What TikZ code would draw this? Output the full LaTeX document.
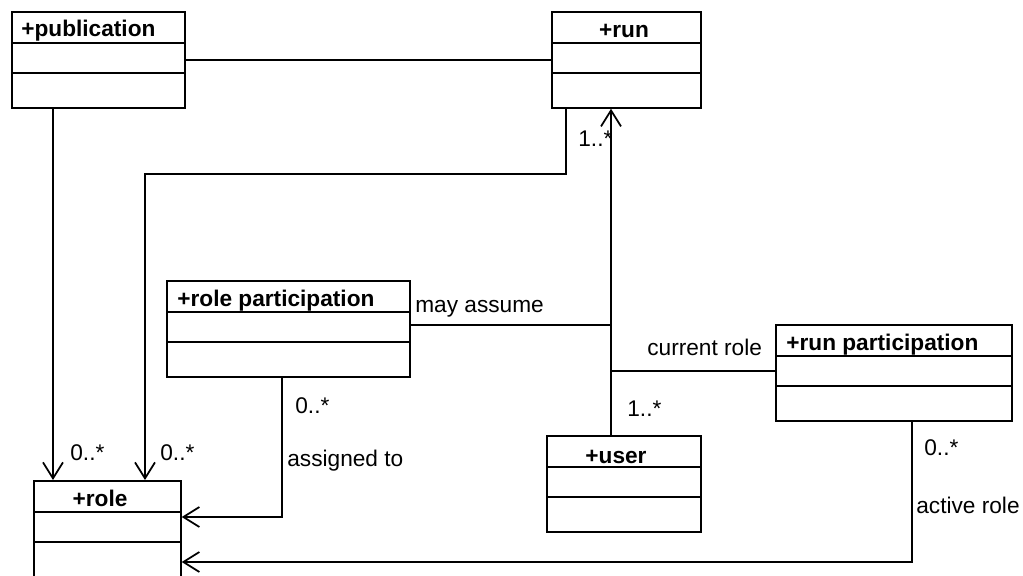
\documentclass[tikz,border=0pt]{standalone}
\usepackage{fontspec}
\setmainfont{Liberation Sans}
\usetikzlibrary{arrows.meta}
\tikzset{
  classbox/.style={draw, line width=1pt, anchor=north west, inner sep=0pt, minimum height=1.92cm},
  classname/.style={font=\bfseries\fontsize{12.9}{15}\selectfont, inner sep=0pt},
  assoclabel/.style={font=\fontsize{12.9}{15}\selectfont, inner sep=0pt, anchor=base west},
  assoc/.style={line width=1pt},
  navig/.style={line width=1pt, -{Straight Barb[length=0.32cm,width=0.4cm]}}
}

\begin{document}
\begin{tikzpicture}[x=0.02cm, y=-0.02cm]
				\clip (0,0) rectangle (1023,575);
				% classes
				\node[classbox, minimum width=3.46cm] (publication) at (11,11) {};
				\node[classbox, minimum width=2.98cm] (run) at (551,11) {};
				\node[classbox, minimum width=4.86cm] (roleparticipation) at (166,280) {};
				\node[classbox, minimum width=4.72cm] (runparticipation) at (775,324) {};
				\node[classbox, minimum width=3.08cm] (user) at (546,435) {};
				\node[classbox, minimum width=2.94cm] (role) at (33,480) {};
				\foreach \c in {publication, run, roleparticipation, runparticipation, user, role}
					\foreach \s in {32, 62}
						\draw[line width=1pt] ([yshift=-\s*0.02cm]\c.north west) -- ([yshift=-\s*0.02cm]\c.north east);
				\node[classname, anchor=base west] (publication-name) at (21,36) {+publication};
				\node[classname, anchor=base] (run-name) at (624,37) {+run};
				\node[classname, anchor=base west] (roleparticipation-name) at (177,306) {+role participation};
				\node[classname, anchor=base west] (runparticipation-name) at (786,350) {+run participation};
				\node[classname, anchor=base] (user-name) at (616,463) {+user};
				\node[classname, anchor=base] (role-name) at (100,506) {+role};
				% associations
				\coordinate (junction1) at (611,325);
				\coordinate (junction2) at (611,371);
				\coordinate (bend) at (145,174);
				\draw[assoc] (publication.east) -- (run.west);
				\draw[navig] ([xshift=0.84cm]publication.south west) -- ([xshift=0.84cm]publication.south west |- role.north);
				\draw[navig] ([xshift=0.3cm]run.south west) |- (bend) -- (bend |- role.north);
				\draw[navig] (user.north -| junction1) -- (run.south -| junction1);
				\draw[assoc] (roleparticipation.east |- junction1) -- (junction1);
				\draw[assoc] (runparticipation.west |- junction2) -- (junction2);
				\draw[navig] ([xshift=2.32cm]roleparticipation.south west) |- ([yshift=-0.74cm]role.north east);
				\draw[navig] ([xshift=2.74cm]runparticipation.south west) |- ([yshift=-1.64cm]role.north east);
				% labels
				\node[assoclabel] (mult-run) at (578,146) {1..*};
				\node[assoclabel] (mult-pub) at (70,460) {0..*};
				\node[assoclabel] (mult-runrole) at (160,460) {0..*};
				\node[assoclabel] (may-assume) at (415,312) {may assume};
				\node[assoclabel] (current-role) at (647,355) {current role};
				\node[assoclabel] (mult-user) at (627,416) {1..*};
				\node[assoclabel] (mult-rp) at (295,413) {0..*};
				\node[assoclabel] (assigned-to) at (287,466) {assigned to};
				\node[assoclabel] (mult-runpart) at (924,455) {0..*};
				\node[assoclabel] (active-role) at (916,513) {active role};
			\end{tikzpicture}
\end{document}
